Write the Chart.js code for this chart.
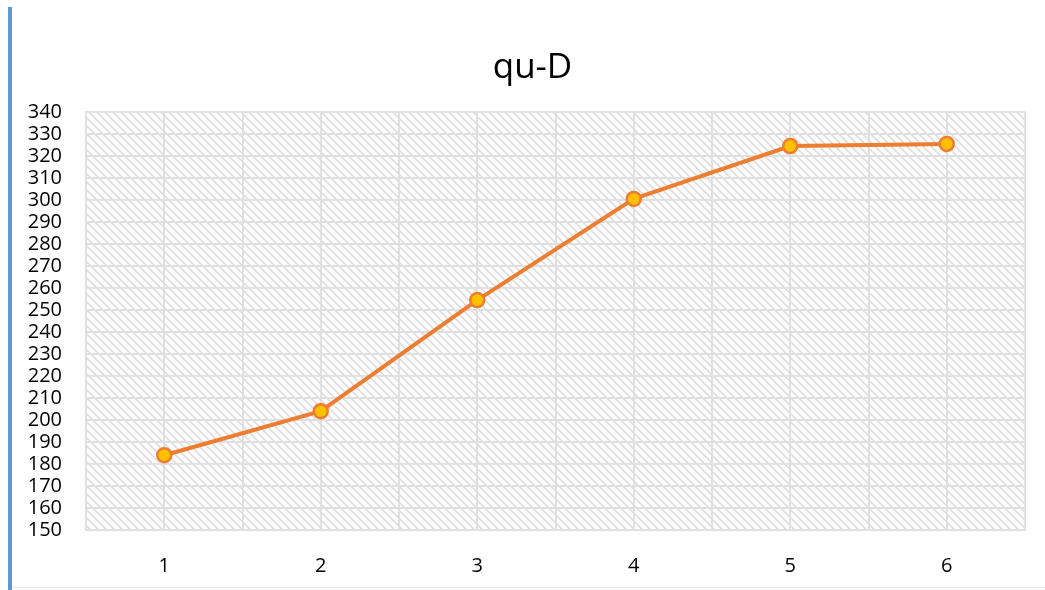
<!DOCTYPE html>
<html>
<head>
<meta charset="utf-8">
<script src="https://cdn.jsdelivr.net/npm/chart.js@4"></script>
<style>
html,body{margin:0;padding:0;background:#fff;}
#wrap{width:1045px;height:590px;position:relative;}
</style>
</head>
<body>
<div id="wrap"><canvas id="c" width="1045" height="590"></canvas></div>
<script>
const categories = ["1", "2", "3", "4", "5", "6"];
const seriesValues = [184, 204, 254.5, 300.5, 324.5, 325.5];
const yTickMin = 150;
const yTickMax = 340;
const yTickStep = 10;
const chartTitle = "qu-D";

const points = categories.map((c, i) => ({ x: i + 1, y: seriesValues[i] }));

function makeHatch(ctx) {
  const t = document.createElement('canvas');
  t.width = 8; t.height = 8;
  const tc = t.getContext('2d');
  tc.fillStyle = '#ffffff';
  tc.fillRect(0, 0, 8, 8);
  for (let y = 0; y < 8; y++) {
    for (let x = 0; x < 8; x++) {
      const d = ((x - y) % 8 + 8) % 8;
      if (d === 0 || d === 1) { tc.fillStyle = '#e0e0e0'; tc.fillRect(x, y, 1, 1); }
      else if (d === 2) { tc.fillStyle = '#eeeeee'; tc.fillRect(x, y, 1, 1); }
    }
  }
  return ctx.createPattern(t, 'repeat');
}

const decor = {
  id: 'decor',
  beforeDraw(chart) {
    const ctx = chart.ctx;
    const a = chart.chartArea;
    ctx.save();
    ctx.fillStyle = '#ffffff';
    ctx.fillRect(0, 0, chart.width, chart.height);
    ctx.fillStyle = '#5b9bd5';
    ctx.fillRect(8, 7, 4, chart.height - 7);
    ctx.fillStyle = '#e8e8e8';
    ctx.fillRect(12, 587, chart.width - 12, 1);
    ctx.fillStyle = makeHatch(ctx);
    ctx.fillRect(a.left, a.top, a.right - a.left, a.bottom - a.top);
    ctx.restore();
  }
};

new Chart(document.getElementById('c'), {
  type: 'line',
  data: {
    datasets: [{
      data: points,
      borderColor: '#ed7d31',
      borderWidth: 4,
      pointRadius: 7,
      pointHoverRadius: 7,
      pointBackgroundColor: '#ffc000',
      pointBorderColor: '#ed7d31',
      pointBorderWidth: 2.5,
      tension: 0
    }]
  },
  options: {
    responsive: false,
    animation: false,
    layout: { padding: { left: 20, right: 0, top: 0, bottom: 0 } },
    plugins: {
      legend: { display: false },
      tooltip: { enabled: false },
      title: {
        display: true,
        text: chartTitle,
        color: '#000000',
        font: { family: 'Open Sans', size: 35, weight: 'normal', lineHeight: 1.2 },
        padding: { top: 47, bottom: 23 }
      }
    },
    scales: {
      x: {
        type: 'linear',
        min: 0.5,
        max: categories.length + 0.5,
        afterFit(s) { s.height = 60; s.paddingRight = 20; s.paddingLeft = 0; },
        afterBuildTicks(s) {
          const t = [];
          for (let v = 0.5; v <= categories.length + 0.5 + 1e-9; v += 0.5) t.push({ value: v });
          s.ticks = t;
        },
        ticks: {
          autoSkip: false,
          maxRotation: 0,
          padding: 24,
          color: '#000000',
          font: { family: 'Open Sans', size: 20 },
          callback(v) {
            return Number.isInteger(v) ? categories[v - 1] : '';
          }
        },
        grid: { color: '#e0e0e0', lineWidth: 2, drawTicks: false },
        border: { color: '#e0e0e0', width: 2 }
      },
      y: {
        min: yTickMin,
        max: yTickMax,
        afterFit(s) { s.width = 66; },
        ticks: {
          stepSize: yTickStep,
          autoSkip: false,
          padding: 24,
          color: '#000000',
          font: { family: 'Open Sans', size: 20, lineHeight: 1 }
        },
        grid: { color: '#e0e0e0', lineWidth: 2, drawTicks: false },
        border: { color: '#e0e0e0', width: 2 }
      }
    }
  },
  plugins: [decor]
});
</script>
</body>
</html>
